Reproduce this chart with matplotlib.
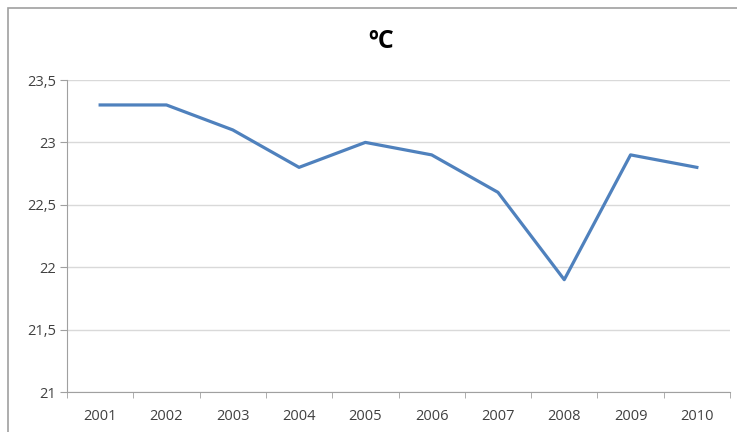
import matplotlib
matplotlib.use("Agg")
import matplotlib.pyplot as plt
from matplotlib.patches import Rectangle
from matplotlib.ticker import FixedLocator, FuncFormatter

years = ["2001", "2002", "2003", "2004", "2005", "2006", "2007", "2008", "2009", "2010"]
temps = [23.3, 23.3, 23.1, 22.8, 23.0, 22.9, 22.6, 21.9, 22.9, 22.8]
yticks = [21, 21.5, 22, 22.5, 23, 23.5]

plt.rcParams['font.family'] = ['Open Sans', 'DejaVu Sans']

fig = plt.figure(figsize=(7.37, 4.32), dpi=100)
fig.patches.append(Rectangle((8/737, -0.1), 1.2, (432-8)/432 + 0.1, transform=fig.transFigure,
                             fill=False, edgecolor='#A0A0A0', linewidth=1.2))
ax = fig.add_axes([67/737, 1-392/432, (730-67)/737, (392-80)/432])

x = list(range(len(years)))
ax.plot(x, temps, color='#4F81BD', linewidth=2.3)

ax.set_xlim(-0.5, len(years)-0.5)
ax.set_ylim(21, 23.5)
ax.set_yticks(yticks)
ax.yaxis.set_major_formatter(FuncFormatter(lambda v, p: ('%g' % v).replace('.', ',')))
ax.set_xticks(x)
ax.set_xticklabels(years)
ax.xaxis.set_minor_locator(FixedLocator([i - 0.5 for i in range(len(years)+1)]))
ax.tick_params(axis='x', which='major', length=0, pad=12, labelsize=10.5, colors='#404040')
ax.tick_params(axis='x', which='minor', length=4, color='#A0A0A0')
ax.tick_params(axis='y', length=5, color='#A0A0A0', labelsize=10.5, labelcolor='#404040', pad=3)
ax.grid(axis='y', color='#D9D9D9', linewidth=1.0)
ax.set_axisbelow(True)
for s in ['top', 'right']:
    ax.spines[s].set_visible(False)
ax.spines['left'].set_color('#A0A0A0')
ax.spines['bottom'].set_color('#A0A0A0')

fig.text(381/737, 1-42/432, "ºC", ha='center', va='center', fontsize=18, fontweight='bold', color='black')

fig.savefig("out.png", dpi=100)
